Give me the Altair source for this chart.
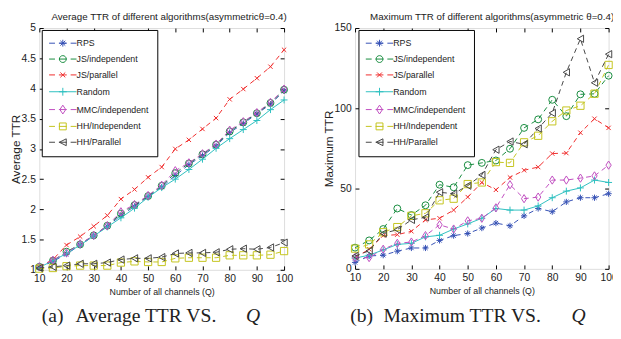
import altair as alt
import pandas as pd

# ---------------- data ----------------
Q = [10, 15, 20, 25, 30, 35, 40, 45, 50, 55, 60, 65, 70, 75, 80, 85, 90, 95, 100]

SERIES = ["RPS", "JS/independent", "JS/parallel", "Random",
          "MMC/independent", "HH/Independent", "HH/Parallel"]
COLORS = ["#3450b4", "#148a3c", "#f02a2a", "#2cc0c0", "#c04cc0", "#c4c41c", "#454545"]
DASHED = [True, True, True, False, True, True, True]

# Average TTR (panel a)
avg_rps = [1.04, 1.14, 1.26, 1.41, 1.56, 1.72, 1.90, 2.05, 2.21, 2.37, 2.56, 2.74, 2.89, 3.05, 3.27, 3.42, 3.58, 3.74, 3.96]
avg_jsi = [1.05, 1.15, 1.30, 1.42, 1.57, 1.73, 1.93, 2.07, 2.22, 2.39, 2.60, 2.76, 2.91, 3.07, 3.29, 3.44, 3.59, 3.76, 3.98]
avg_jsp = [1.05, 1.17, 1.41, 1.55, 1.72, 1.90, 2.17, 2.33, 2.53, 2.70, 3.00, 3.15, 3.33, 3.51, 3.82, 3.99, 4.17, 4.36, 4.64]
avg_rnd = [1.04, 1.15, 1.27, 1.41, 1.56, 1.71, 1.86, 2.02, 2.20, 2.36, 2.50, 2.66, 2.83, 3.01, 3.17, 3.32, 3.47, 3.65, 3.81]
avg_mmc = [1.05, 1.16, 1.28, 1.43, 1.57, 1.73, 1.96, 2.08, 2.23, 2.40, 2.64, 2.77, 2.92, 3.08, 3.31, 3.45, 3.60, 3.77, 3.99]
avg_hhi = [1.02, 1.03, 1.06, 1.07, 1.07, 1.07, 1.12, 1.14, 1.13, 1.13, 1.19, 1.20, 1.20, 1.20, 1.24, 1.24, 1.24, 1.25, 1.31]
avg_hhp = [1.03, 1.05, 1.07, 1.10, 1.10, 1.12, 1.17, 1.19, 1.19, 1.21, 1.27, 1.28, 1.28, 1.29, 1.34, 1.35, 1.34, 1.37, 1.45]

# Maximum TTR (panel b)
max_rps = [4, 8, 8.5, 11, 13, 13, 17.7, 20.7, 22, 25.4, 28.5, 26.8, 33, 37.6, 35.6, 41.7, 44.3, 44.3, 46.8]
max_jsi = [13.2, 17.7, 24.8, 37.6, 33.5, 39.6, 52.4, 50.8, 64.6, 66, 67.5, 74.8, 87.8, 93.1, 105.3, 95.1, 108.7, 109, 120.3]
max_jsp = [7, 12.2, 20.7, 21.3, 23.4, 30.5, 31.5, 36.6, 44.7, 53.8, 49.2, 56.9, 61.4, 63.4, 71.8, 72.1, 84.8, 93.5, 87.8]
max_rnd = [6.7, 8.5, 11.8, 15.2, 15.9, 19.9, 20.9, 24.8, 28, 31.5, 37.6, 36.6, 36.6, 39.2, 44.3, 48.4, 50.4, 55.3, 53.8]
max_mmc = [7, 7, 12.2, 15.9, 16.7, 20.7, 27.4, 24.8, 29.9, 31.5, 38, 52.4, 43.7, 44.7, 55.3, 55.3, 56.5, 57.9, 64.6]
max_hhi = [12.6, 15.2, 22.8, 26, 33, 34.6, 42.7, 43.7, 52.8, 53.8, 66.5, 66, 78.8, 82.9, 91.9, 98.6, 101.6, 109.1, 127]
max_hhp = [8, 11.2, 22, 24.4, 30.5, 32.1, 47.7, 46.8, 51.8, 58.5, 74.2, 79.3, 77.6, 87.4, 97.1, 122.4, 143.3, 115.9, 133.7]

AVG = [avg_rps, avg_jsi, avg_jsp, avg_rnd, avg_mmc, avg_hhi, avg_hhp]
MAX = [max_rps, max_jsi, max_jsp, max_rnd, max_mmc, max_hhi, max_hhp]

X_TICKS = [10, 20, 30, 40, 50, 60, 70, 80, 90, 100]
Y_TICKS_A = [1, 1.5, 2, 2.5, 3, 3.5, 4, 4.5, 5]
Y_TICKS_B = [0, 50, 100, 150]

# ---------------- styling ----------------
SANS = "Liberation Sans"
SERIF = "Liberation Serif"
TXT = "#222222"

MARKERS = [
    "M-1,0H1M0,-1V1M-0.7,-0.7L0.7,0.7M-0.7,0.7L0.7,-0.7",
    "circle",
    "M-0.7,-0.7L0.7,0.7M-0.7,0.7L0.7,-0.7",
    "M-1,0H1M0,-1V1",
    "M0,-1.25L0.8,0L0,1.25L-0.8,0Z",
    "square",
    "triangle-left",
]
MSIZE = [40, 50, 40, 50, 45, 55, 55]

DASH_SEG = "M-2.8,0H-1.6M-0.8,0H0.8M1.6,0H2.8"
SOLID_SEG = "M-2.8,0H2.8"
LEG_MARK = [
    "M-0.7,0H0.7M0,-0.7V0.7M-0.5,-0.5L0.5,0.5M-0.5,0.5L0.5,-0.5",
    "M0.7,0A0.7,0.7 0 1,1 -0.7,0A0.7,0.7 0 1,1 0.7,0Z",
    "M-0.5,-0.5L0.5,0.5M-0.5,0.5L0.5,-0.5",
    "M-0.8,0H0.8M0,-0.8V0.8",
    "M0,-0.9L0.6,0L0,0.9L-0.6,0Z",
    "M-0.7,-0.7H0.7V0.7H-0.7Z",
    "M-0.7,0L0.7,-0.7L0.7,0.7Z",
]
LEG_PATHS = [(DASH_SEG if d else SOLID_SEG) + m for d, m in zip(DASHED, LEG_MARK)]

NEG_TICK = {"expr": "-4"}


def text_layer(txt, x, y, font, size, align="left", baseline="alphabetic", style="normal"):
    return alt.Chart(pd.DataFrame({"k": [0]})).mark_text(
        align=align, baseline=baseline, font=font, fontSize=size,
        fontStyle=style, color=TXT).encode(
        x=alt.value(x), y=alt.value(y), text=alt.value(txt))


def panel(values, ydomain, yticks, yfmt, ytitle, title, cap_label, cap_body,
          width, height, title_x, leg_x, cap_x):
    xscale = alt.Scale(domain=[10, 100], nice=False, zero=False)
    yscale = alt.Scale(domain=ydomain, nice=False, zero=False)
    layers = []
    for i, (name, ys) in enumerate(zip(SERIES, values)):
        df = pd.DataFrame({"Q": Q, "v": ys})
        if i == 0:
            xenc = alt.X("Q:Q", scale=xscale, axis=alt.Axis(
                orient="bottom", values=X_TICKS, grid=False, domain=False,
                labelFlush=False, tickSize=NEG_TICK, tickColor="black",
                labelFont=SANS, labelFontSize=10.5, labelColor=TXT,
                labelPadding=8, title="Number of all channels (Q)",
                titleFont=SANS, titleFontSize=9, titleFontWeight="normal",
                titleColor=TXT, titlePadding=4))
            yenc = alt.Y("v:Q", scale=yscale, axis=alt.Axis(
                orient="left", values=yticks, format=yfmt, grid=False,
                domain=False, labelFlush=False, tickSize=NEG_TICK,
                tickColor="black", labelFont=SANS, labelFontSize=10.5,
                labelColor=TXT, labelPadding=8, title=ytitle, titleFont=SANS,
                titleFontSize=12, titleFontWeight="normal", titleColor=TXT,
                titlePadding=-1))
        else:
            xenc = alt.X("Q:Q", scale=xscale, axis=None)
            yenc = alt.Y("v:Q", scale=yscale, axis=None)
        line_kw = {"strokeWidth": 1, "color": COLORS[i]}
        if DASHED[i]:
            line_kw["strokeDash"] = [5, 4]
        layers.append(alt.Chart(df).mark_line(**line_kw).encode(x=xenc, y=yenc))
        layers.append(alt.Chart(df).mark_point(
            shape=MARKERS[i], size=MSIZE[i], filled=False, strokeWidth=1,
            opacity=1, color=COLORS[i]).encode(
            x=alt.X("Q:Q", scale=xscale, axis=None),
            y=alt.Y("v:Q", scale=yscale, axis=None)))

    # legend + mirrored (top/right) inward ticks; draws no marks itself
    legdf = pd.DataFrame({"Q": [10] * 7, "v": [ydomain[0]] * 7, "series": SERIES})
    layers.append(alt.Chart(legdf).transform_filter("false").mark_point(
        filled=False, strokeWidth=1, opacity=1).encode(
        x=alt.X("Q:Q", scale=xscale, axis=alt.Axis(
            orient="top", values=X_TICKS, labels=False, domain=False,
            grid=False, tickSize=NEG_TICK, tickColor="black", title=None)),
        y=alt.Y("v:Q", scale=yscale, axis=alt.Axis(
            orient="right", values=yticks, labels=False, domain=False,
            grid=False, tickSize=NEG_TICK, tickColor="black", title=None)),
        color=alt.Color("series:N", scale=alt.Scale(domain=SERIES, range=COLORS),
                        legend=alt.Legend(
            title=None, orient="none", legendX=leg_x, legendY=2,
            direction="vertical", labelFont=SANS, labelFontSize=9,
            labelColor=TXT, symbolSize=100, symbolStrokeWidth=1,
            symbolOffset=8, labelOffset=8.5, rowPadding=5.2, padding=8,
            strokeColor="black", fillColor="white")),
        shape=alt.Shape("series:N", scale=alt.Scale(domain=SERIES, range=LEG_PATHS),
                        legend=alt.Legend(title=None, orient="none",
                                          legendX=leg_x, legendY=2))))

    # panel title (above the frame) and sub-caption (below the axis title)
    layers.append(text_layer(title, title_x, -11, SANS, 10,
                             align="center", baseline="middle"))
    y_cap = 300
    layers.append(text_layer(cap_label, cap_x[0], y_cap, SERIF, 20))
    layers.append(text_layer(cap_body, cap_x[1], y_cap, SERIF, 20))
    layers.append(text_layer("Q", cap_x[2], y_cap, SERIF, 20, style="italic"))

    return alt.layer(*layers).properties(width=width, height=height)


left = panel(AVG, [1, 5], Y_TICKS_A, "~g", "Average TTR",
             "Average TTR of different algorithms(asymmetric\u03b8=0.4)",
             "(a)", "Average TTR VS.", 250, 247, 132.5, 2.5, [2.5, 37, 211])
right = panel(MAX, [0, 150], Y_TICKS_B, "d", "Maximum TTR",
              "Maximum TTR of different algorithms(asymmetric \u03b8=0.4)",
              "(b)", "Maximum TTR VS.", 259, 246, 140, 3.5, [-5, 29, 221])

chart = alt.hconcat(
    left, right, spacing=72.5, bounds="flush",
    padding={"left": 0, "top": 0, "right": -5, "bottom": -1},
).resolve_scale(
    color="independent", shape="independent").resolve_legend(
    color="independent", shape="independent").configure_view(
    stroke="black", strokeWidth=1).configure(background="white")

chart.save("out.html", embed_options={"renderer": "svg", "actions": False})
